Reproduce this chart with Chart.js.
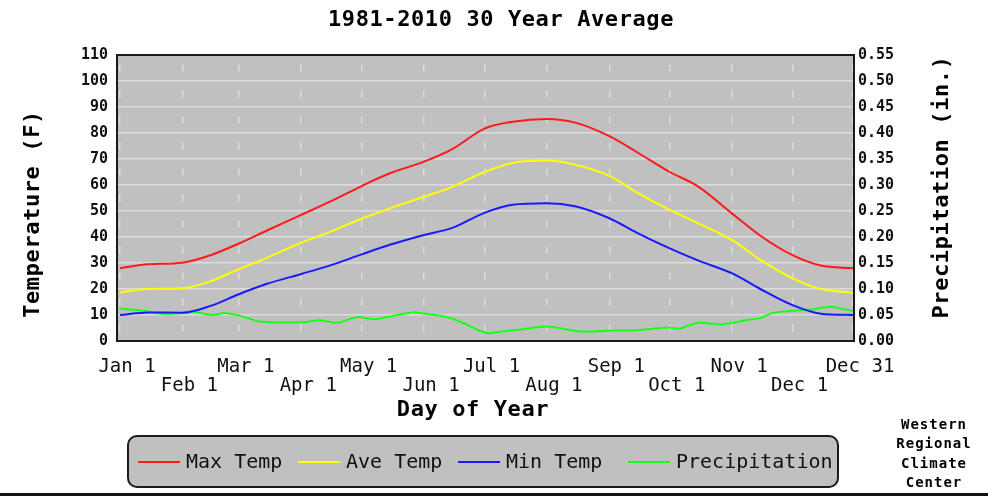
<!DOCTYPE html>
<html>
<head>
<meta charset="utf-8">
<script src="https://cdn.jsdelivr.net/npm/chart.js@4.4.1/dist/chart.umd.min.js"></script>
<style>
  body { margin: 0; background: #fff; }
  #wrap { width: 988px; height: 498px; position: relative; }
</style>
</head>
<body>
<div id="wrap"><canvas id="climateChart"></canvas></div>
<script>
// day of year for the temperature samples
const days = [1, 15, 32, 46, 60, 74, 91, 105, 121, 135, 152, 166, 182, 196, 213, 227, 244, 258, 274, 288, 305, 319, 335, 349, 365];
const maxTemp = [28, 29.5, 30.1, 33, 37.5, 42.5, 48.5, 53.5, 59.6, 64.5, 69, 73.8, 81.7, 84.3, 85.4, 84, 78.8, 72.5, 65, 59.5, 49, 40.5, 33, 29, 28];
const aveTemp = [18.7, 20, 20.3, 23, 27.6, 32, 37.8, 41.9, 47, 51, 55.5, 59.3, 65, 68.5, 69.4, 67.8, 63.5, 57, 50.4, 45.3, 38.8, 31.2, 24.1, 20, 18.6];
const minTemp = [10, 11, 10.9, 13.5, 18, 22, 25.8, 29, 33.3, 37, 40.8, 43.5, 49.3, 52.4, 53, 51.8, 47.2, 41.5, 35.6, 31, 26, 20, 13.8, 10.5, 10];

// precipitation is a bit noisier, so it gets its own sample days
const precipDays = [1, 13, 23, 32, 38, 47, 53, 61, 71, 92, 100, 109, 119, 127, 139, 146, 152, 162, 170, 179, 184, 190, 200, 213, 223, 231, 246, 259, 273, 279, 288, 300, 312, 319, 325, 335, 345, 354, 359, 365];
const precip = [0.062, 0.058, 0.052, 0.054, 0.056, 0.050, 0.054, 0.048, 0.037, 0.036, 0.040, 0.035, 0.046, 0.042, 0.050, 0.055, 0.053, 0.047, 0.037, 0.021, 0.015, 0.018, 0.022, 0.028, 0.022, 0.018, 0.020, 0.021, 0.026, 0.024, 0.035, 0.032, 0.040, 0.044, 0.054, 0.058, 0.061, 0.066, 0.062, 0.058];

const tickDays = [1, 32, 60, 91, 121, 152, 182, 213, 244, 274, 305, 335, 365];
const tickLabels = ['Jan 1', 'Feb 1', 'Mar 1', 'Apr 1', 'May 1', 'Jun 1', 'Jul 1', 'Aug 1', 'Sep 1', 'Oct 1', 'Nov 1', 'Dec 1', 'Dec 31'];

const seriesNames = ['Max Temp', 'Ave Temp', 'Min Temp', 'Precipitation'];
const seriesColors = ['#ff1a1a', '#ffff00', '#1a1aff', '#1aff1a'];

const MONO = '"DejaVu Sans Mono", "Liberation Mono", monospace';

function pairs(xs, ys) {
    return xs.map((x, i) => ({ x: x, y: ys[i] }));
}

const framePlugin = {
    id: 'frame',
    beforeDraw(chart) {
        const { ctx, chartArea: a } = chart;
        ctx.save();
        ctx.fillStyle = '#c0c0c0';
        ctx.fillRect(a.left, a.top, a.right - a.left, a.bottom - a.top);
        ctx.restore();
    },
    beforeDatasetsDraw(chart) {
        const { ctx, chartArea: a } = chart;
        ctx.save();
        ctx.strokeStyle = '#1a1a1a';
        ctx.lineWidth = 2;
        ctx.strokeRect(a.left - 1, a.top, a.right - a.left + 2, a.bottom - a.top);
        ctx.restore();
    },
    afterDraw(chart) {
        const ctx = chart.ctx;
        ctx.save();
        ctx.fillStyle = '#000';
        ctx.textAlign = 'center';
        ctx.textBaseline = 'middle';

        // titles
        ctx.font = 'bold 22px ' + MONO;
        ctx.letterSpacing = '0.6px';
        ctx.fillText('1981-2010 30 Year Average', 501, 20);
        ctx.fillText('Day of Year', 473, 410);

        ctx.save();
        ctx.translate(33, 214);
        ctx.rotate(-Math.PI / 2);
        ctx.fillText('Temperature (F)', 0, 0);
        ctx.restore();

        ctx.save();
        ctx.translate(942, 187);
        ctx.rotate(-Math.PI / 2);
        ctx.fillText('Precipitation (in.)', 0, 0);
        ctx.restore();

        // legend box
        ctx.beginPath();
        ctx.roundRect(128, 436, 710, 51, 9);
        ctx.fillStyle = '#c0c0c0';
        ctx.fill();
        ctx.strokeStyle = '#1a1a1a';
        ctx.lineWidth = 2;
        ctx.stroke();

        const legendX = [138, 298, 458, 628];
        ctx.font = '20px ' + MONO;
        ctx.letterSpacing = '0px';
        ctx.textAlign = 'left';
        chart.data.datasets.forEach((ds, i) => {
            const x0 = legendX[i];
            ctx.beginPath();
            ctx.moveTo(x0, 462);
            ctx.lineTo(x0 + 42, 462);
            ctx.strokeStyle = ds.borderColor;
            ctx.lineWidth = 2;
            ctx.stroke();
            ctx.fillStyle = '#111';
            ctx.fillText(ds.label, x0 + 48, 463);
        });

        // credit
        ctx.font = 'bold 14px ' + MONO;
        ctx.letterSpacing = '1px';
        ctx.textAlign = 'center';
        ctx.fillStyle = '#000';
        ['Western', 'Regional', 'Climate', 'Center'].forEach((t, i) => {
            ctx.fillText(t, 934, 425 + i * 19.5);
        });

        ctx.fillStyle = '#111';
        ctx.fillRect(0, 493, 988, 3);
        ctx.restore();
    }
};

const ctx = document.getElementById('climateChart').getContext('2d');
new Chart(ctx, {
    type: 'line',
    data: {
        datasets: [
            { label: seriesNames[0], data: pairs(days, maxTemp), borderColor: seriesColors[0], yAxisID: 'y', cubicInterpolationMode: 'monotone' },
            { label: seriesNames[1], data: pairs(days, aveTemp), borderColor: seriesColors[1], yAxisID: 'y', cubicInterpolationMode: 'monotone' },
            { label: seriesNames[2], data: pairs(days, minTemp), borderColor: seriesColors[2], yAxisID: 'y', cubicInterpolationMode: 'monotone' },
            { label: seriesNames[3], data: pairs(precipDays, precip), borderColor: seriesColors[3], yAxisID: 'y2', tension: 0.3 }
        ]
    },
    options: {
        responsive: true,
        maintainAspectRatio: false,
        animation: false,
        layout: { padding: { top: 55, bottom: 0, left: 0, right: 0 } },
        elements: {
            point: { radius: 0 },
            line: { borderWidth: 2, fill: false }
        },
        plugins: {
            legend: { display: false },
            tooltip: { enabled: false }
        },
        scales: {
            x: {
                type: 'linear',
                min: 0,
                max: 365,
                afterBuildTicks: scale => { scale.ticks = tickDays.map(v => ({ value: v })); },
                afterFit: scale => { scale.height = 157; },
                grid: { color: '#dcdcdc', lineWidth: 1.5, drawTicks: false },
                border: { display: false, dash: [7, 19], dashOffset: 16.5 },
                ticks: {
                    autoSkip: false,
                    maxRotation: 0,
                    padding: 16,
                    labelOffset: 7,
                    color: '#111',
                    font: { family: MONO, size: 19, lineHeight: 1.03 },
                    callback: (value, index) => index % 2 === 0 ? [tickLabels[index], ''] : ['', tickLabels[index]]
                }
            },
            y: {
                position: 'left',
                min: 0,
                max: 110,
                afterFit: scale => { scale.width = 118; },
                grid: { color: '#dcdcdc', lineWidth: 1.5, drawTicks: false },
                border: { display: false },
                ticks: {
                    stepSize: 10,
                    padding: 10,
                    color: '#111',
                    font: { family: MONO, size: 15, weight: 'bold' }
                }
            },
            y2: {
                position: 'right',
                min: 0,
                max: 0.55,
                afterFit: scale => { scale.width = 135; },
                grid: { drawOnChartArea: false, drawTicks: false },
                border: { display: false },
                ticks: {
                    stepSize: 0.05,
                    padding: 5,
                    color: '#111',
                    font: { family: MONO, size: 15, weight: 'bold' },
                    callback: v => v.toFixed(2)
                }
            }
        }
    },
    plugins: [framePlugin]
});
</script>
</body>
</html>
